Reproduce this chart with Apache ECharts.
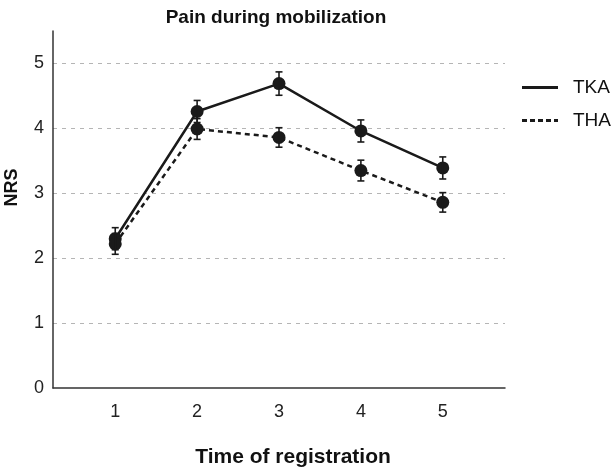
<!DOCTYPE html>
<html><head><meta charset="utf-8">
<script src="https://cdn.jsdelivr.net/npm/echarts@6/dist/echarts.min.js"></script>
<style>html,body{margin:0;padding:0;background:#fff}#c{width:613px;height:472px}</style>
</head><body><div id="c"></div>
<script>
const times = [1, 2, 3, 4, 5];
const tka = [2.30, 4.26, 4.69, 3.96, 3.39];
const tkaErr = [0.17, 0.17, 0.18, 0.17, 0.17];
const tha = [2.22, 3.99, 3.86, 3.35, 2.86];
const thaErr = [0.16, 0.16, 0.15, 0.16, 0.15];
const yTicks = [0, 1, 2, 3, 4, 5];

const FONT = '"Liberation Sans", Arial, sans-serif';
const INK = '#1a1a1a';

function pairs(vals) { return times.map((t, i) => [t, vals[i]]); }
function errData(vals, errs) { return times.map((t, i) => [t, vals[i] - errs[i], vals[i] + errs[i]]); }

function errRender(params, api) {
  const x = api.value(0);
  const lo = api.coord([x, api.value(1)]);
  const hi = api.coord([x, api.value(2)]);
  const cap = 3.5;
  const st = { stroke: INK, lineWidth: 1.6 };
  return { type: 'group', children: [
    { type: 'line', shape: { x1: lo[0], y1: lo[1], x2: hi[0], y2: hi[1] }, style: st },
    { type: 'line', shape: { x1: lo[0] - cap, y1: lo[1], x2: lo[0] + cap, y2: lo[1] }, style: st },
    { type: 'line', shape: { x1: hi[0] - cap, y1: hi[1], x2: hi[0] + cap, y2: hi[1] }, style: st }
  ]};
}

const chart = echarts.init(document.getElementById('c'), null, { renderer: 'canvas' });
chart.setOption({
  animation: false,
  backgroundColor: '#fff',
  textStyle: { fontFamily: FONT },
  title: {
    text: 'Pain during mobilization', left: 271, top: 3, textAlign: 'center',
    textStyle: { fontFamily: FONT, fontSize: 19, fontWeight: 'bold', color: '#111' }
  },
  legend: {
    orient: 'vertical', left: 517, top: 73, itemGap: 14,
    itemWidth: 36, itemHeight: 3,
    textStyle: { fontFamily: FONT, fontSize: 19, color: '#111', padding: [0, 0, 0, 10] },
    data: [
      { name: 'TKA', icon: 'path://M0,0 L36,0 L36,3 L0,3 Z', itemStyle: { color: INK } },
      { name: 'THA', icon: 'path://M0,0 L5,0 L5,3 L0,3 Z M8,0 L13,0 L13,3 L8,3 Z M16,0 L21,0 L21,3 L16,3 Z M24,0 L29,0 L29,3 L24,3 Z M32,0 L36,0 L36,3 L32,3 Z', itemStyle: { color: INK } }
    ]
  },
  grid: { left: 53, right: 108, top: 31, bottom: 84, containLabel: false, outerBoundsMode: 'none' },
  xAxis: {
    type: 'value', min: 0.24, max: 5.76,
    name: 'Time of registration', nameLocation: 'middle', nameGap: 59,
    nameTextStyle: { fontFamily: FONT, fontSize: 21, fontWeight: 'bold', color: '#111', padding: [0, 0, 0, 28] },
    axisLine: { show: true, lineStyle: { color: '#333', width: 1.5 } },
    axisTick: { show: false },
    splitLine: { show: false },
    axisLabel: { customValues: times, fontFamily: FONT, fontSize: 18, color: '#222', margin: 15 }
  },
  yAxis: {
    type: 'value', min: 0, max: 5.5,
    name: 'NRS', nameLocation: 'middle', nameGap: 32, nameRotate: 90,
    nameTextStyle: { fontFamily: FONT, fontSize: 18, fontWeight: 'bold', color: '#111', padding: [0, 0, 0, 44] },
    axisLine: { show: true, lineStyle: { color: '#333', width: 1.5 } },
    axisTick: { show: false },
    axisLabel: { customValues: yTicks, fontFamily: FONT, fontSize: 18, color: '#222', margin: 9 },
    splitLine: { show: true, showMinLine: false, showMaxLine: false, lineStyle: { color: '#b5b5b5', type: [4, 5], width: 1.2 } }
  },
  series: [
    { name: 'TKA', type: 'line', data: pairs(tka), symbol: 'circle', symbolSize: 13,
      lineStyle: { color: INK, width: 2.5 }, itemStyle: { color: INK }, z: 3 },
    { name: 'THA', type: 'line', data: pairs(tha), symbol: 'circle', symbolSize: 13,
      lineStyle: { color: INK, width: 2.5, type: [5, 4] }, itemStyle: { color: INK }, z: 3 },
    { name: 'TKA err', type: 'custom', renderItem: errRender, data: errData(tka, tkaErr), z: 4, silent: true },
    { name: 'THA err', type: 'custom', renderItem: errRender, data: errData(tha, thaErr), z: 4, silent: true }
  ]
});
</script></body></html>
